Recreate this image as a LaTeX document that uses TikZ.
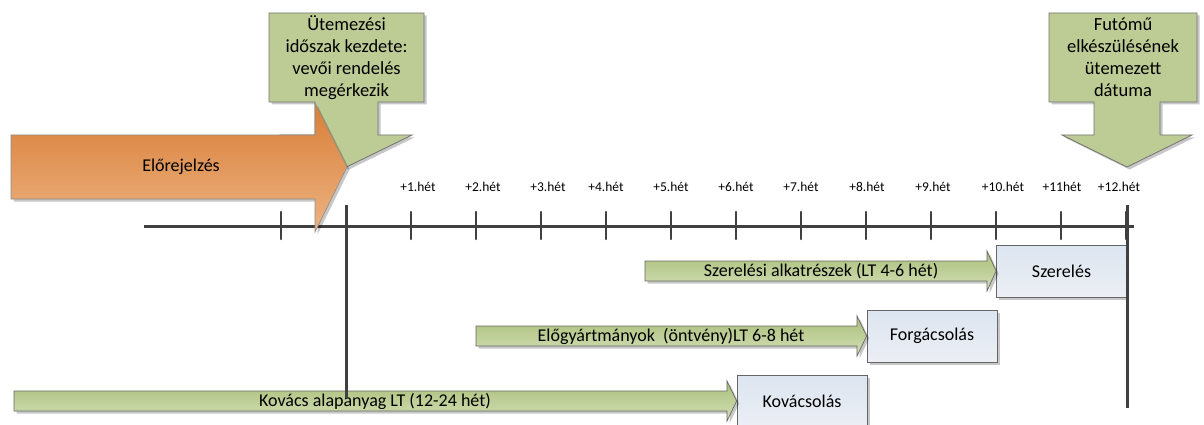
\documentclass[tikz,border=0pt]{standalone}
\usepackage{fontspec}
\setmainfont{Carlito}
\usepackage{xcolor}
\usepackage{tikz}
\usetikzlibrary{positioning, arrows.meta, shadows}

\definecolor{axisgray}{HTML}{404040}
\definecolor{olivefill}{HTML}{BDCC94}
\definecolor{olivetop}{HTML}{A9BE78}
\definecolor{olivebot}{HTML}{D5E0B8}
\definecolor{orangetop}{HTML}{D87E38}
\definecolor{orangebot}{HTML}{EDB382}
\definecolor{boxtop}{HTML}{DCE5F0}
\definecolor{boxbot}{HTML}{ECEFF4}

\begin{document}
\begin{tikzpicture}[>=Stealth, x=1pt, y=-1pt,
    font=\fontsize{18}{22}\selectfont,
    axisline/.style={line width=3pt, draw=axisgray},
    tickline/.style={line width=2.5pt, draw=axisgray, line cap=round},
    weeklabel/.style={font=\fontsize{13.5}{16}\selectfont},
    softshadow/.style={drop shadow={shadow xshift=2.5pt, shadow yshift=-2.5pt, opacity=.22, fill=black}},
    callout/.style={fill=olivefill, draw=black!55, line width=0.8pt, softshadow},
    calltext/.style={align=center, font=\fontsize{18.5}{22}\selectfont},
    greenarrow/.style={top color=olivetop, bottom color=olivebot, draw=black!60, line width=0.7pt, softshadow},
    forecast/.style={top color=orangetop, bottom color=orangebot, draw=black!45, line width=0.6pt, softshadow},
    procbox/.style={top color=boxtop, bottom color=boxbot, draw=black!60, line width=0.8pt,
        minimum width=130pt, minimum height=52pt, inner sep=0pt, softshadow}]

    \path[use as bounding box, fill=white] (0,0) rectangle (1204,425);

    % Timeline
    \coordinate (tl) at (144,226);
    \coordinate (tr) at (1134,226);
    \draw[axisline] (tl) -- (tr);
    \foreach \k in {0,...,13}
        \draw[tickline] ({281+65*\k},212) -- ({281+65*\k},239);

    % Week labels
    \foreach \i/\lx/\txt in {1/418/+1.hét, 2/483/+2.hét, 3/548/+3.hét, 4/606/+4.hét,
            5/671/+5.hét, 6/736/+6.hét, 7/801/+7.hét, 8/867/+8.hét, 9/933/+9.hét,
            10/1003/+10.hét, 11/1062/+11hét, 12/1119/+12.hét}
        \node[weeklabel] (w\i) at (\lx,187) {\txt};

    % Callouts
    \path[callout] (269,13) -- (424,13) -- (424,102) -- (378,102) -- (378,135) -- (412,135)
        -- (346.5,167) -- (281,135) -- (315,135) -- (315,102) -- (269,102) -- cycle;
    \node[calltext] (start) at (346.5,57.5) {Ütemezési\\időszak kezdete:\\vevői rendelés\\megérkezik};

    \path[callout] (1049,13) -- (1197,13) -- (1197,102) -- (1160,102) -- (1160,135) -- (1192,135)
        -- (1127,167) -- (1062,135) -- (1094,135) -- (1094,102) -- (1049,102) -- cycle;
    \node[calltext] (finish) at (1123,57.5) {Futómű\\elkészülésének\\ütemezett\\dátuma};

    % Forecast
    \path[forecast] (11,135) -- (315,135) -- (315,103) -- (347,167) -- (315,232) -- (315,199)
        -- (11,199) -- cycle;
    \node (fc) at (181,167) {Előrejelzés};

    % Process boxes
    \node[procbox] (szer) at (1061.5,271) {Szerelés};
    \node[procbox] (forg) at (932,336) {Forgácsolás};
    \node[procbox] (kova) at (802,401) {Kovácsolás};

    % Lead time arrows
    \path[greenarrow] (645,261) -- (987,261) -- (987,251) -- (szer.west) -- (987,291)
        -- (987,281) -- (645,281) -- cycle;
    \node (szalk) at (821,271) {Szerelési alkatrészek (LT 4-6 hét)};

    \path[greenarrow] (476,326) -- (857,326) -- (857,316) -- (forg.west) -- (857,356)
        -- (857,346) -- (476,346) -- cycle;
    \node (elogy) at (671,336) {Előgyártmányok\ \ (öntvény)LT 6-8 hét};

    \path[greenarrow] (14,391) -- (727,391) -- (727,381) -- (kova.west) -- (727,421)
        -- (727,411) -- (14,411) -- cycle;
    \node (kovlt) at (375,401) {Kovács alapanyag LT (12-24 hét)};

    % Period limits
    \coordinate (ps) at (346,205);
    \coordinate (pe) at (1127,205);
    \draw[axisline] (ps) -- (346,398);
    \draw[axisline] (pe) -- (1127,408);
\end{tikzpicture}
\end{document}
